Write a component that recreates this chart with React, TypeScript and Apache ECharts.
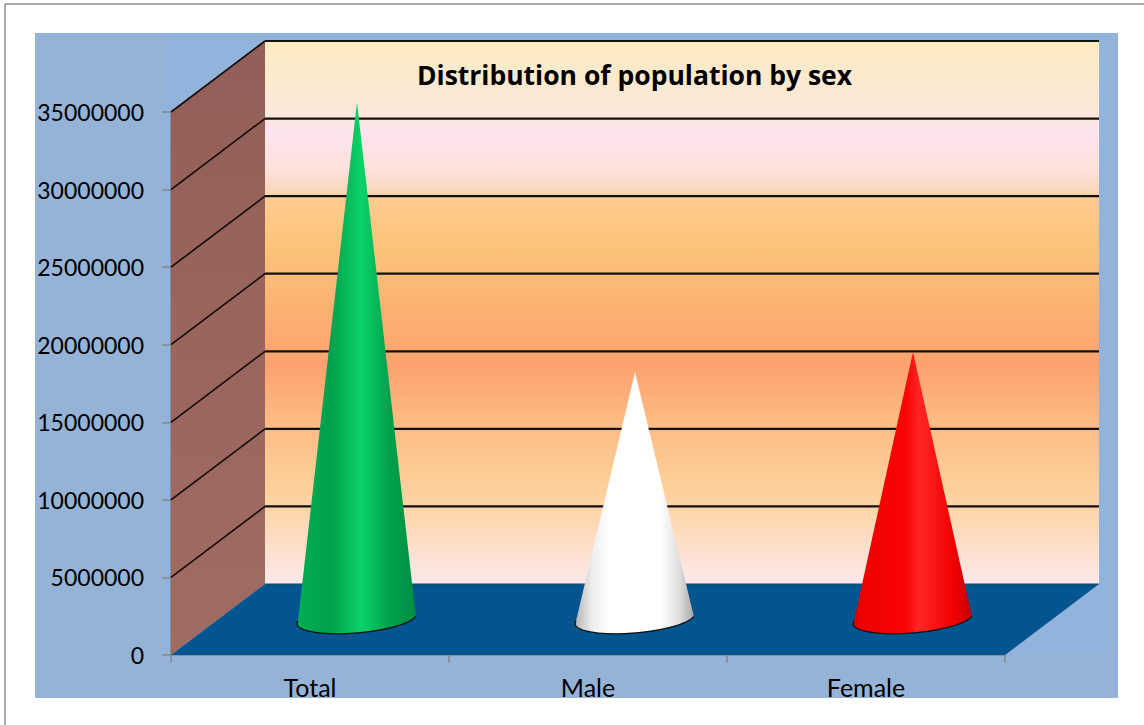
import React, { useEffect, useRef } from "react";
import * as echarts from "echarts";

const categories = ["Total", "Male", "Female"];
const populationValues = [33400000, 16000000, 17300000];
const yTicks = [0, 5000000, 10000000, 15000000, 20000000, 25000000, 30000000, 35000000];

const coneShades: [number, string][][] = [
  [[0, "#00AE52"], [0.28, "#00A04A"], [0.54, "#0BD268"], [0.78, "#00A04C"], [1, "#008E42"]],
  [[0, "#B4B4B4"], [0.14, "#EDEDED"], [0.3, "#FFFFFF"], [0.72, "#FFFFFF"], [0.88, "#DEDEDE"], [1, "#A8A8A8"]],
  [[0, "#DE0000"], [0.1, "#F00000"], [0.45, "#F80606"], [0.56, "#FF2626"], [0.84, "#F00000"], [1, "#C60000"]],
];

const wallStops: [number, string][] = [
  [0, "#FEEBC2"], [0.142, "#FCE8DC"], [0.164, "#FEE4F0"], [0.238, "#FDE2DC"],
  [0.278, "#F8D6B8"], [0.293, "#FDCB8E"], [0.376, "#FCC47A"], [0.477, "#FCB474"],
  [0.597, "#FDA26E"], [0.716, "#FDBE85"], [0.845, "#FDD3A0"], [1, "#FDE8EC"],
];

const FONT = "Lato";
const DEPTH_X = 94;
const DEPTH_Y = 71;
const CONE_X = 47;
const CONE_Y = 34;
const CONE_RX = 59;
const CONE_RY = 14;
const CONE_TILT = 4.5;

const renderWalls = (params: any, api: any) => {
  const cs = params.coordSys;
  const x0 = cs.x;
  const x1 = cs.x + cs.width;
  const floorY = api.coord([0, 0])[1];
  const topY = api.coord([0, yTicks[yTicks.length - 1]])[1];
  const children: any[] = [
    {
      type: "rect",
      shape: { x: x0 + DEPTH_X, y: topY - DEPTH_Y, width: cs.width, height: floorY - topY },
      style: {
        fill: {
          type: "linear", x: 0, y: 0, x2: 0, y2: 1,
          colorStops: wallStops.map(([offset, color]) => ({ offset, color })),
        },
      },
    },
    {
      type: "polygon",
      shape: { points: [[x0, topY], [x0 + DEPTH_X, topY - DEPTH_Y], [x0 + DEPTH_X, floorY - DEPTH_Y], [x0, floorY]] },
      style: {
        fill: {
          type: "linear", x: 0, y: 0, x2: 0, y2: 1,
          colorStops: [
            { offset: 0, color: "#925F58" },
            { offset: 1, color: "#A06C62" },
          ],
        },
      },
    },
    {
      type: "polygon",
      shape: { points: [[x0, floorY], [x0 + DEPTH_X, floorY - DEPTH_Y], [x1 + DEPTH_X, floorY - DEPTH_Y], [x1, floorY]] },
      style: { fill: "#03558F" },
    },
  ];
  yTicks.forEach((tick) => {
    const y = api.coord([0, tick])[1];
    if (tick === 0) {
      children.push({
        type: "line",
        shape: { x1: x0 + DEPTH_X, y1: y - DEPTH_Y, x2: x1 + DEPTH_X, y2: y - DEPTH_Y },
        style: { stroke: "#2A3E50", lineWidth: 1 },
      });
      return;
    }
    children.push({
      type: "line",
      shape: { x1: x0, y1: y, x2: x0 + DEPTH_X, y2: y - DEPTH_Y },
      style: { stroke: "#140A08", lineWidth: 1.6 },
    });
    children.push({
      type: "line",
      shape: { x1: x0 + DEPTH_X, y1: y - DEPTH_Y, x2: x1 + DEPTH_X, y2: y - DEPTH_Y },
      style: { stroke: "#111111", lineWidth: 2.2 },
    });
  });
  return { type: "group", children };
};

const renderCone = (params: any, api: any) => {
  const index = api.value(0);
  const top = api.coord([index, api.value(1)]);
  const base = api.coord([index, 0]);
  const cx = base[0] + CONE_X;
  const cy = base[1] - CONE_Y;
  const ax = top[0] + CONE_X;
  const ay = top[1] - CONE_Y - 0.5;
  const rad = (CONE_TILT * Math.PI) / 180;
  const ex = CONE_RX * Math.cos(rad);
  const ey = CONE_RX * Math.sin(rad);
  const rightX = cx + ex;
  const rightY = cy - ey;
  const leftX = cx - ex;
  const leftY = cy + ey;
  const arc = `A ${CONE_RX} ${CONE_RY} ${-CONE_TILT} 0 1 ${leftX} ${leftY}`;
  return {
    type: "group",
    children: [
      {
        type: "path",
        shape: { pathData: `M ${ax} ${ay} L ${rightX} ${rightY} ${arc} Z` },
        style: {
          fill: {
            type: "linear", x: 0, y: 0, x2: 1, y2: 0,
            colorStops: coneShades[index].map(([offset, color]) => ({ offset, color })),
          },
        },
      },
      {
        type: "path",
        shape: { pathData: `M ${rightX} ${rightY} ${arc}` },
        style: { fill: "none", stroke: "#101010", lineWidth: 1.3 },
      },
    ],
  };
};

export default function App() {
  const ref = useRef<HTMLDivElement>(null);

  useEffect(() => {
    document.body.style.margin = "0";
    const chart = echarts.init(ref.current!, undefined, { renderer: "svg" });
    chart.setOption({
      animation: false,
      backgroundColor: "#FFFFFF",
      title: {
        text: "Distribution of population by sex",
        left: 629.5,
        top: 56,
        textAlign: "center",
        textStyle: { fontFamily: "Open Sans", fontSize: 26.5, fontWeight: "bold", color: "#000000" },
      },
      grid: { left: 171, right: 139, top: 112, bottom: 70, containLabel: false },
      graphic: [
        { type: "rect", z: -10, shape: { x: 35, y: 33, width: 1083, height: 665 }, style: { fill: "#95B3D7" } },
        { type: "rect", z: -9, shape: { x: 164, y: 33, width: 945, height: 620 }, style: { fill: "#92B4DC" } },
        { type: "line", z: -8, shape: { x1: 5, y1: 4, x2: 1144, y2: 4 }, style: { stroke: "#8C8C8C", lineWidth: 1.5 } },
        { type: "line", z: -8, shape: { x1: 5, y1: 4, x2: 5, y2: 725 }, style: { stroke: "#8C8C8C", lineWidth: 1.5 } },
      ],
      xAxis: {
        type: "category",
        data: categories,
        axisLine: { show: true, lineStyle: { color: "#868686", width: 1.5 } },
        axisTick: { show: true, alignWithLabel: false, length: 8, lineStyle: { color: "#868686", width: 1.5 } },
        axisLabel: { color: "#000000", fontFamily: FONT, fontSize: 25, margin: 19 },
        splitLine: { show: false },
      },
      yAxis: {
        type: "value",
        min: 0,
        max: 35000000,
        interval: 5000000,
        axisLine: { show: true, lineStyle: { color: "#868686", width: 1.5 } },
        axisTick: { show: true, length: 9, lineStyle: { color: "#868686", width: 1.5 } },
        axisLabel: { color: "#000000", fontFamily: FONT, fontSize: 23, margin: 17, padding: [0, 10, 0, 0], formatter: (v: number) => String(v) },
        splitLine: { show: false },
      },
      series: [
        {
          type: "custom",
          name: "walls",
          z: 1,
          clip: false,
          silent: true,
          coordinateSystem: "cartesian2d",
          data: [[0, 0]],
          renderItem: renderWalls,
        },
        {
          type: "custom",
          name: "Population",
          z: 3,
          clip: false,
          coordinateSystem: "cartesian2d",
          encode: { x: 0, y: 1 },
          data: populationValues.map((v, i) => [i, v]),
          renderItem: renderCone,
        },
      ],
    });
    return () => chart.dispose();
  }, []);

  return <div ref={ref} style={{ width: 1144, height: 725 }} />;
}
